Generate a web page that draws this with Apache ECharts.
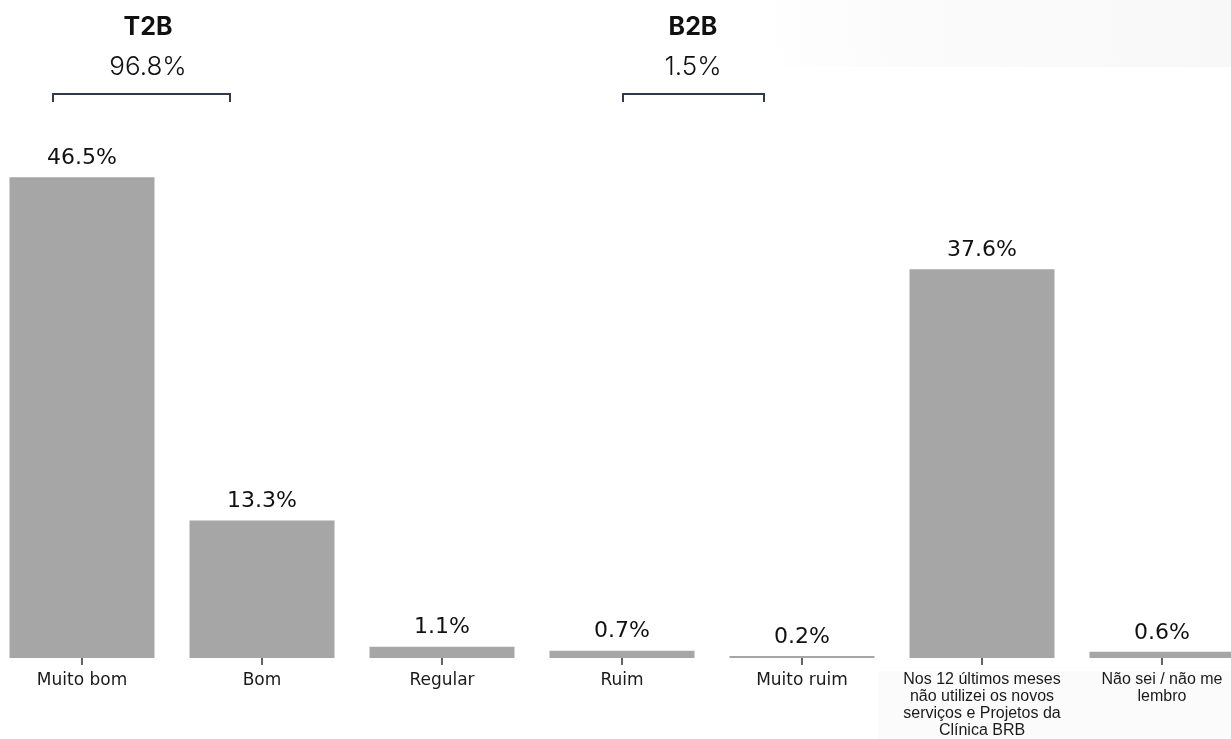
<!DOCTYPE html>
<html>
<head>
<meta charset="utf-8">
<script src="https://cdn.jsdelivr.net/npm/echarts@6/dist/echarts.min.js"></script>
<style>html,body{margin:0;padding:0;background:#fff}#c{width:1231px;height:739px}</style>
</head>
<body>
<div id="c"></div>
<script>
const categories = ['Muito bom', 'Bom', 'Regular', 'Ruim', 'Muito ruim',
  'Nos 12 últimos meses\nnão utilizei os novos\nserviços e Projetos da\nClínica BRB',
  'Não sei / não me\nlembro'];
const values = [46.5, 13.3, 1.1, 0.7, 0.2, 37.6, 0.6];
const groupTitles = ['T2B', 'B2B'];
const groupTotals = ['96.8%', '1.5%'];

const chart = echarts.init(document.getElementById('c'));
const option = {
  animation: false,
  backgroundColor: '#ffffff',
  grid: { left: -8, right: -21, top: 141, bottom: 81, containLabel: false, outerBoundsMode: 'none' },
  xAxis: {
    type: 'category',
    data: categories,
    axisLine: { show: false },
    axisTick: { show: true, alignWithLabel: true, length: 7, lineStyle: { color: '#333', width: 1.5 } },
    axisLabel: {
      interval: 0,
      margin: 13,
      formatter: function (v, i) {
        return i >= 5 ? '{b|' + v.split('\n').join('}\n{b|') + '}' : '{a|' + v + '}';
      },
      rich: {
        a: { fontFamily: 'DejaVu Sans', fontSize: 17, lineHeight: 20, color: '#1a1a1a' },
        b: { fontFamily: 'Liberation Sans', fontSize: 16, lineHeight: 17, color: '#1a1a1a', align: 'center' }
      }
    }
  },
  yAxis: { type: 'value', min: 0, max: 50, show: false, splitLine: { show: false } },
  series: [{
    type: 'bar',
    data: values,
    barWidth: 145,
    itemStyle: { color: '#a6a6a6' },
    label: {
      show: true,
      position: 'top',
      distance: 8,
      fontFamily: 'DejaVu Sans',
      fontSize: 22,
      color: '#111',
      formatter: p => p.value.toFixed(1) + '%'
    }
  }],
  graphic: [
    { type: 'rect', z: -10, silent: true, shape: { x: 560, y: 0, width: 671, height: 67 },
      style: { fill: new echarts.graphic.LinearGradient(0, 1, 1, 0, [{ offset: 0, color: 'rgba(250,250,250,0)' }, { offset: 0.3, color: 'rgba(250,250,250,0)' }, { offset: 0.5, color: '#fbfbfb' }, { offset: 1, color: '#f8f8f8' }]) } },
    { type: 'rect', z: -10, silent: true, shape: { x: 878, y: 671, width: 353, height: 68 }, style: { fill: '#fbfbfb' } },
    { type: 'text', style: { text: groupTitles[0], x: 148, y: 27, align: 'center', verticalAlign: 'middle', fontFamily: 'Inter', fontWeight: 'bold', fontSize: 25, fill: '#111' } },
    { type: 'text', style: { text: groupTotals[0], x: 148, y: 67, align: 'center', verticalAlign: 'middle', fontFamily: 'Inter', fontWeight: 300, fontSize: 26, fill: '#111' } },
    { type: 'text', style: { text: groupTitles[1], x: 693, y: 27, align: 'center', verticalAlign: 'middle', fontFamily: 'Inter', fontWeight: 'bold', fontSize: 25, fill: '#111' } },
    { type: 'text', style: { text: groupTotals[1], x: 693, y: 67, align: 'center', verticalAlign: 'middle', fontFamily: 'Inter', fontWeight: 300, fontSize: 26, fill: '#111' } },
    { type: 'polyline', shape: { points: [[53, 102], [53, 94], [230, 94], [230, 102]] }, style: { stroke: '#2f3b48', lineWidth: 2, fill: null } },
    { type: 'polyline', shape: { points: [[623, 102], [623, 94], [764, 94], [764, 102]] }, style: { stroke: '#2f3b48', lineWidth: 2, fill: null } }
  ]
};
chart.setOption(option);
</script>
</body>
</html>
